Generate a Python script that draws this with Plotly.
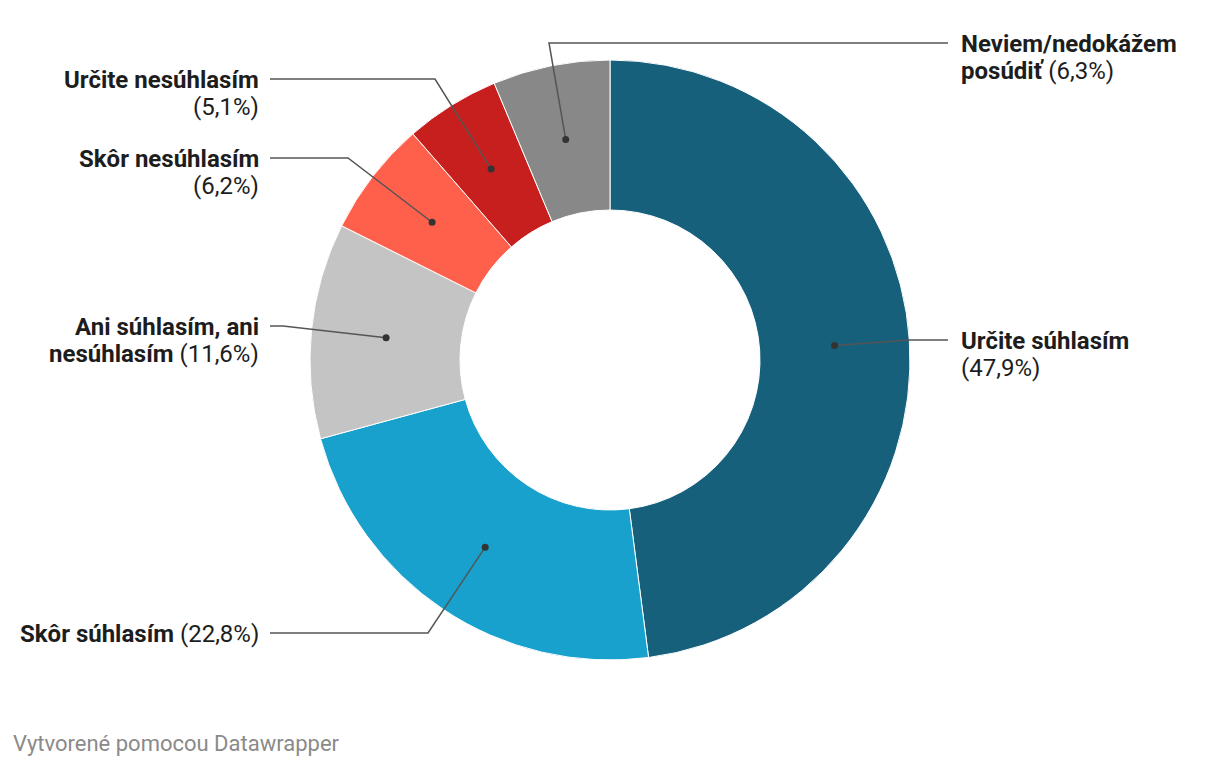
import math
import plotly.graph_objects as go

# data
categories = ["Určite súhlasím", "Skôr súhlasím", "Ani súhlasím, ani nesúhlasím",
              "Skôr nesúhlasím", "Určite nesúhlasím", "Neviem/nedokážem posúdiť"]
values = [47.9, 22.8, 11.6, 6.2, 5.1, 6.3]
colors = ["#17607b", "#19a1cd", "#c4c4c4", "#ff604b", "#c71e1e", "#888888"]

# label lines as they wrap in the original
label_lines = [
    ["<b>Určite súhlasím</b>", "(47,9%)"],
    ["<b>Skôr súhlasím</b> (22,8%)"],
    ["<b>Ani súhlasím, ani</b>", "<b>nesúhlasím</b> (11,6%)"],
    ["<b>Skôr nesúhlasím</b>", "(6,2%)"],
    ["<b>Určite nesúhlasím</b>", "(5,1%)"],
    ["<b>Neviem/nedokážem</b>", "<b>posúdiť</b> (6,3%)"],
]

W, H = 1220, 766
OFF = 8  # page body margin, coordinates below are screen pixels
cx, cy, R = 610, 360, 300
hole = 0.5

# where each label sits: (elbow x, label y, line end x, side)
label_pos = [
    (910, 340, 948, "right"),
    (428, 633, 270, "left"),
    (283, 326, 270, "left"),
    (348, 158, 270, "left"),
    (435, 79, 270, "left"),
    (549, 43, 948, "right"),
]

fig = go.Figure()

fx0, fy0 = cx - OFF, cy - OFF
fig.add_trace(go.Pie(
    labels=categories, values=values, sort=False, direction="clockwise",
    rotation=0, hole=hole, textinfo="none", hoverinfo="label+value",
    marker=dict(colors=colors, line=dict(color="white", width=1)),
    domain=dict(x=[(fx0 - R) / W, (fx0 + R) / W], y=[1 - (fy0 + R) / H, 1 - (fy0 - R) / H]),
    showlegend=False,
))

total = sum(values)
start = 0
r_dot = R * (1 + hole) / 2
shapes = []
for i, v in enumerate(values):
    mid = (start + v / 2) / total * 2 * math.pi
    start += v
    dx = cx + r_dot * math.sin(mid)
    dy = cy - r_dot * math.cos(mid)
    ex, ly, lx, side = label_pos[i]
    shapes.append(dict(
        type="path", xref="x", yref="y", layer="above",
        path=f"M {dx},{dy} L {ex},{ly} L {lx},{ly}",
        line=dict(color="#555555", width=1.5),
    ))
    rr = 3.5
    shapes.append(dict(
        type="circle", xref="x", yref="y", layer="above",
        x0=dx - rr, x1=dx + rr, y0=dy - rr, y1=dy + rr,
        fillcolor="#333333", line=dict(width=0),
    ))
    for j, txt in enumerate(label_lines[i]):
        fig.add_annotation(
            x=lx + (-9 if side == "left" else 11), y=ly + 1 + j * 27,
            xref="x", yref="y", text=txt, showarrow=False,
            xanchor="right" if side == "left" else "left", yanchor="middle",
            font=dict(family="Roboto", size=24, color="#1d1d1d"),
        )

fig.add_annotation(
    x=11, y=743, xref="x", yref="y", text="Vytvorené pomocou Datawrapper",
    showarrow=False, xanchor="left", yanchor="middle",
    font=dict(family="Roboto", size=22, color="#8a8a8a"),
)

fig.update_layout(
    width=W, height=H, margin=dict(l=0, r=0, t=0, b=0),
    paper_bgcolor="white", plot_bgcolor="rgba(0,0,0,0)",
    xaxis=dict(range=[OFF, W + OFF], visible=False, fixedrange=True),
    yaxis=dict(range=[H + OFF, OFF], visible=False, fixedrange=True),
    shapes=shapes,
)

fig.write_html("out.html")
